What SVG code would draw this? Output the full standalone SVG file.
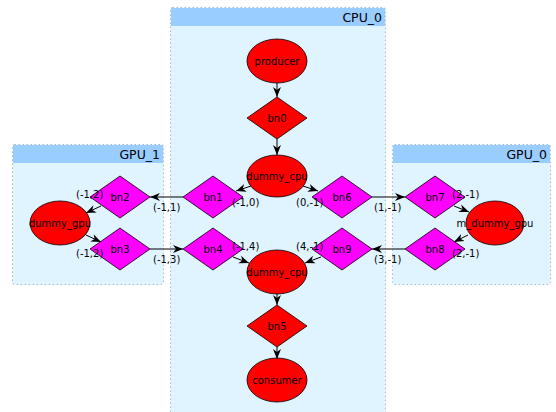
<svg xmlns="http://www.w3.org/2000/svg" width="556" height="412" viewBox="0 0 556 412">
  <defs>
    <marker id="arrow" viewBox="0 0 10 10" refX="10" refY="5" markerWidth="10" markerHeight="10" markerUnits="userSpaceOnUse" orient="auto">
      <path d="M0,1 L10,5 L0,9 L3,5 Z" fill="#000"/>
    </marker>
  </defs>
  <style>
    text { font-family: "DejaVu Sans", Verdana, sans-serif; font-size: 10px; fill: #000; }
    .cluster { fill: #e0f4ff; stroke: #a8bccc; stroke-width: 1; stroke-dasharray: 1.5 2.5; }
    .header { fill: #99ccff; }
    .title { font-size: 12.5px; text-anchor: end; }
    .red { fill: #ff0000; stroke: #000; stroke-width: 0.8; }
    .mag { fill: #ff00ff; stroke: #000; stroke-width: 0.8; }
    .lbl { text-anchor: middle; }
    .edge { fill: none; stroke: #000; stroke-width: 1; marker-end: url(#arrow); }
  </style>

  <!-- clusters -->
  <g id="cluster_CPU_0">
    <rect class="cluster" x="170.5" y="7.5" width="215" height="410" rx="2"/>
    <rect class="header" x="171" y="8" width="214" height="18"/>
    <text class="title" x="382" y="22">CPU_0</text>
  </g>
  <g id="cluster_GPU_1">
    <rect class="cluster" x="12.5" y="144.5" width="151" height="140" rx="2"/>
    <rect class="header" x="13" y="145" width="150" height="18"/>
    <text class="title" x="160" y="159">GPU_1</text>
  </g>
  <g id="cluster_GPU_0">
    <rect class="cluster" x="392.5" y="144.5" width="158" height="140" rx="2"/>
    <rect class="header" x="393" y="145" width="157" height="18"/>
    <text class="title" x="547" y="159">GPU_0</text>
  </g>

  <!-- connectors -->
  <g id="edges">
    <line class="edge" x1="277" y1="83" x2="277" y2="97"/>
    <line class="edge" x1="277" y1="139" x2="277" y2="155"/>
    <line class="edge" x1="251" y1="186" x2="236" y2="191"/>
    <line class="edge" x1="303" y1="186" x2="318" y2="191"/>
    <line class="edge" x1="183" y1="197" x2="150" y2="197"/>
    <line class="edge" x1="101" y1="206" x2="86" y2="213"/>
    <line class="edge" x1="86" y1="235" x2="101" y2="242"/>
    <line class="edge" x1="150" y1="249" x2="183" y2="249"/>
    <line class="edge" x1="233" y1="257" x2="249" y2="263"/>
    <line class="edge" x1="321" y1="257" x2="305" y2="263"/>
    <line class="edge" x1="372" y1="197" x2="405" y2="197"/>
    <line class="edge" x1="454" y1="206" x2="469" y2="212"/>
    <line class="edge" x1="468" y1="235" x2="454" y2="242"/>
    <line class="edge" x1="405" y1="249" x2="372" y2="249"/>
    <line class="edge" x1="277" y1="294" x2="277" y2="305"/>
    <line class="edge" x1="277" y1="347" x2="277" y2="359"/>
  </g>

  <!-- CPU_0 nodes -->
  <g id="producer">
    <ellipse class="red" cx="277" cy="61" rx="30" ry="22"/>
    <text class="lbl" x="277" y="64.5">producer</text>
  </g>
  <g id="bn0">
    <polygon class="red" points="277,97 307,118 277,139 247,118"/>
    <text class="lbl" x="277" y="121.5">bn0</text>
  </g>
  <g id="dummy_cpu_top">
    <ellipse class="red" cx="277" cy="176" rx="30" ry="21"/>
    <text class="lbl" x="277" y="179.5">dummy_cpu</text>
  </g>
  <g id="bn1">
    <polygon class="mag" points="213,176 243,197 213,218 183,197"/>
    <text class="lbl" x="213" y="200.5">bn1</text>
  </g>
  <g id="bn6">
    <polygon class="mag" points="342,176 372,197 342,218 312,197"/>
    <text class="lbl" x="342" y="200.5">bn6</text>
  </g>
  <g id="bn4">
    <polygon class="mag" points="213,228 243,249 213,270 183,249"/>
    <text class="lbl" x="213" y="252.5">bn4</text>
  </g>
  <g id="bn9">
    <polygon class="mag" points="342,228 372,249 342,270 312,249"/>
    <text class="lbl" x="342" y="252.5">bn9</text>
  </g>
  <g id="dummy_cpu_bottom">
    <ellipse class="red" cx="277" cy="272" rx="30" ry="22"/>
    <text class="lbl" x="277" y="275.5">dummy_cpu</text>
  </g>
  <g id="bn5">
    <polygon class="red" points="277,305 307,326 277,347 247,326"/>
    <text class="lbl" x="277" y="329.5">bn5</text>
  </g>
  <g id="consumer">
    <ellipse class="red" cx="277" cy="380" rx="30" ry="22"/>
    <text class="lbl" x="277" y="383.5">consumer</text>
  </g>

  <!-- GPU_1 nodes -->
  <g id="dummy_gpu">
    <ellipse class="red" cx="60" cy="223" rx="30" ry="22"/>
    <text class="lbl" x="60" y="226.5">dummy_gpu</text>
  </g>
  <g id="bn2">
    <polygon class="mag" points="120,176 150,197 120,218 90,197"/>
    <text class="lbl" x="120" y="200.5">bn2</text>
  </g>
  <g id="bn3">
    <polygon class="mag" points="120,228 150,249 120,270 90,249"/>
    <text class="lbl" x="120" y="252.5">bn3</text>
  </g>

  <!-- GPU_0 nodes -->
  <g id="m_dummy_gpu">
    <ellipse class="red" cx="495" cy="223" rx="29" ry="22"/>
    <text class="lbl" x="495" y="226.5">m_dummy_gpu</text>
  </g>
  <g id="bn7">
    <polygon class="mag" points="435,176 465,197 435,218 405,197"/>
    <text class="lbl" x="435" y="200.5">bn7</text>
  </g>
  <g id="bn8">
    <polygon class="mag" points="435,228 465,249 435,270 405,249"/>
    <text class="lbl" x="435" y="252.5">bn8</text>
  </g>

  <!-- connector labels, drawn over the nodes -->
  <g id="edge_labels">
    <text x="76" y="198">(-1,2)</text>
    <text x="153" y="211">(-1,1)</text>
    <text x="76" y="257">(-1,2)</text>
    <text x="153" y="263">(-1,3)</text>
    <text x="232" y="206">(-1,0)</text>
    <text x="296" y="206">(0,-1)</text>
    <text x="374" y="211">(1,-1)</text>
    <text x="232" y="250">(-1,4)</text>
    <text x="296" y="250">(4,-1)</text>
    <text x="374" y="263">(3,-1)</text>
    <text x="452" y="198">(2,-1)</text>
    <text x="452" y="257">(2,-1)</text>
  </g>
</svg>
